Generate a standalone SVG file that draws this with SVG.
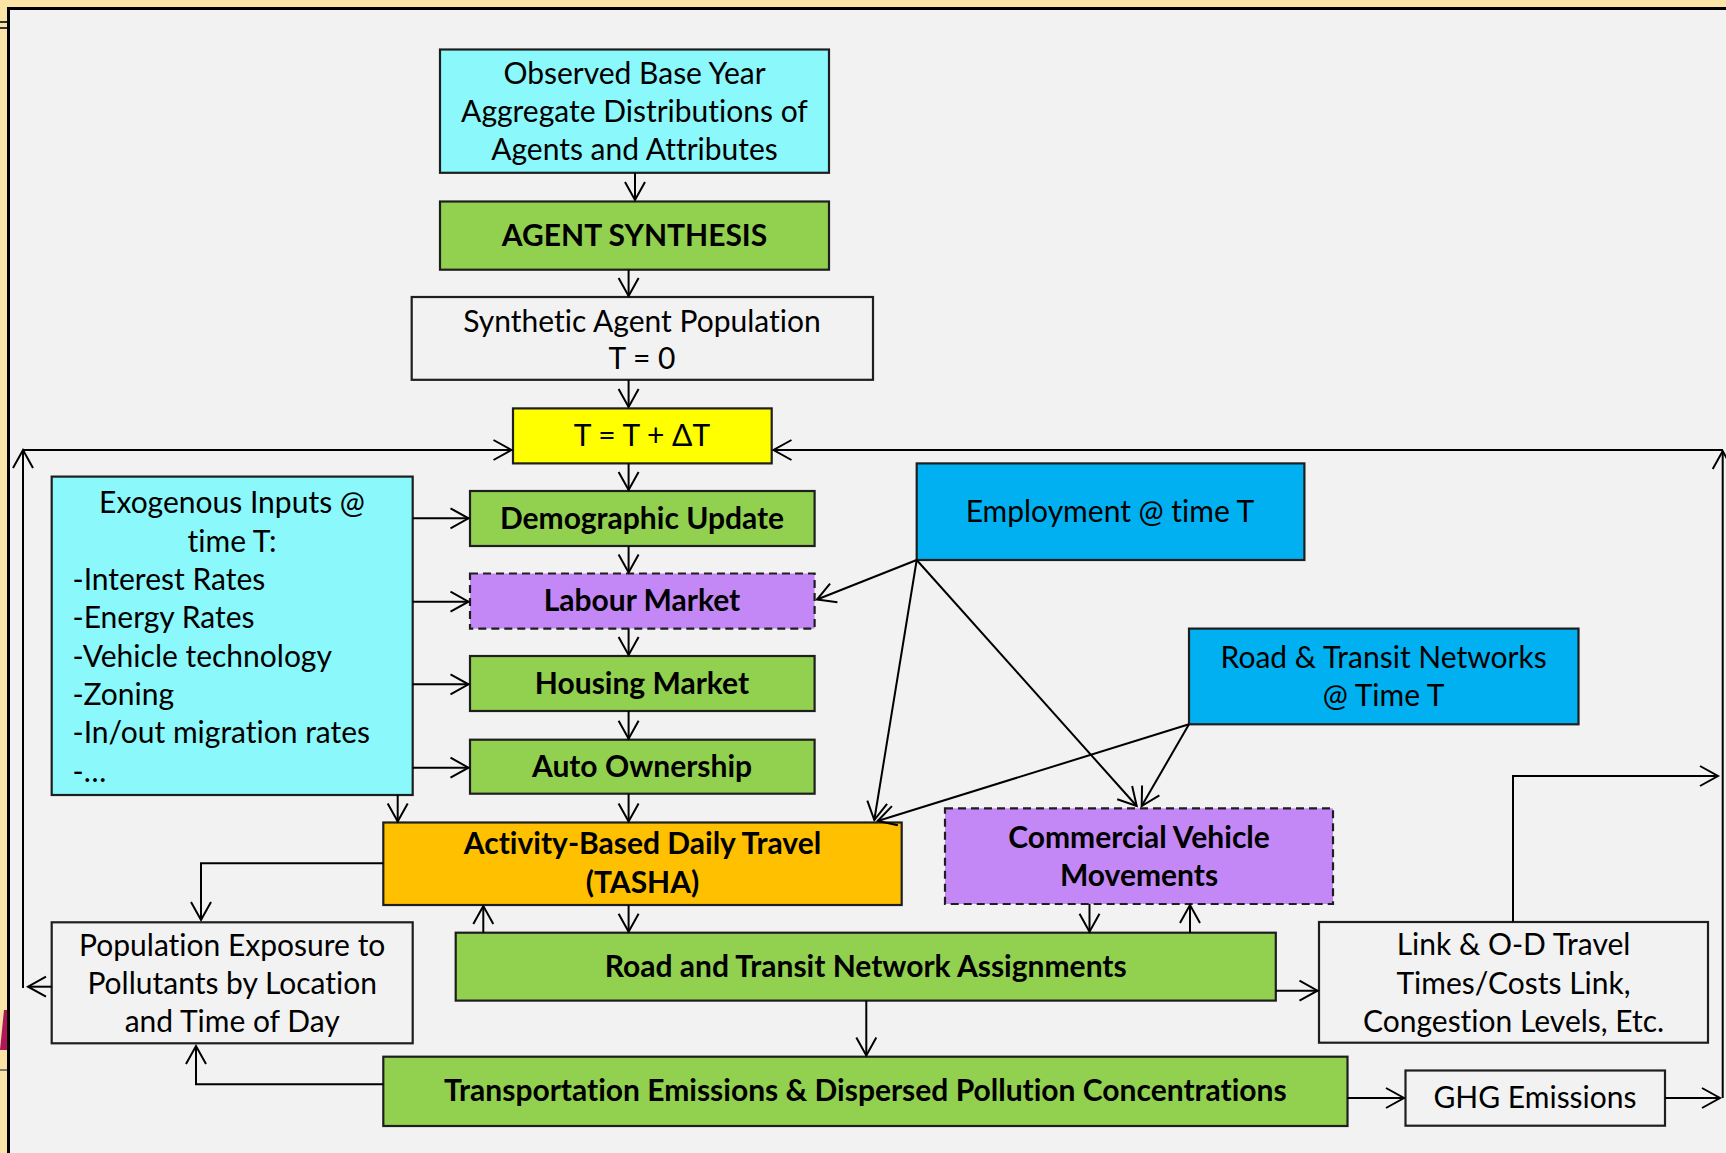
<svg xmlns="http://www.w3.org/2000/svg" width="1726" height="1153" viewBox="0 0 1726 1153">
<defs>
<marker id="ah" markerUnits="userSpaceOnUse" markerWidth="24" markerHeight="24" viewBox="-20 -12 22 24" refX="0" refY="0" orient="auto">
<path d="M -18 -10 L 0 0 L -18 10" fill="none" stroke="#000" stroke-width="2"/>
</marker>
</defs>
<style>
.bx{stroke:#1e1e1e;stroke-width:2.2}
.dash{stroke-dasharray:8 5}
.cyan{fill:#8BF8FC}
.green{fill:#92D050}
.white{fill:#F2F2F2}
.yellow{fill:#FFFF00}
.purple{fill:#C388F6}
.blue{fill:#00B0F0}
.orange{fill:#FFC000}
text{font-family:Lato,"Liberation Sans",sans-serif;font-size:30px;fill:#000;text-anchor:middle;font-variant-ligatures:none}
.b{font-weight:bold}
.l{text-anchor:start}
.c line,.c path{stroke:#000;stroke-width:2;fill:none;marker-end:url(#ah)}
</style>
<rect x="0" y="0" width="1726" height="1153" fill="#FCE4A6"/>
<line x1="0" y1="22" x2="8" y2="22" stroke="#333" stroke-width="2"/>
<line x1="0" y1="28" x2="8" y2="28" stroke="#333" stroke-width="2"/>
<polygon points="0,1050 7,1050 7,1010 4,1010" fill="#B0185A"/>
<line x1="0" y1="1070" x2="8" y2="1070" stroke="#555" stroke-width="1.5"/>
<rect x="8.5" y="8.5" width="1740" height="1160" fill="#F2F2F2" stroke="#000" stroke-width="3"/>

<g id="observed"><rect class="bx cyan" x="440" y="49.5" width="389" height="123.3"/>
<text x="634.5" y="84">Observed Base Year</text><text x="634.5" y="122">Aggregate Distributions of</text><text x="634.5" y="160">Agents and Attributes</text></g>
<g id="agent-synthesis"><rect class="bx green" x="440" y="201.5" width="389" height="68.2"/>
<text class="b" x="634.5" y="246">AGENT SYNTHESIS</text></g>
<g id="synthetic-population"><rect class="bx white" x="411.7" y="297" width="461.3" height="82.8"/>
<text x="642" y="331.5">Synthetic Agent Population</text><text x="642" y="369">T = 0</text></g>
<g id="time-step"><rect class="bx yellow" x="513" y="408.4" width="258.7" height="55"/>
<text x="642" y="446">T = T + ΔT</text></g>
<g id="exogenous"><rect class="bx cyan" x="51.7" y="476.6" width="361" height="318.4"/>
<text x="232" y="513.3">Exogenous Inputs @</text><text x="232" y="551.7">time T:</text>
<text class="l" x="72.5" y="590">-Interest Rates</text><text class="l" x="72.5" y="628.3">-Energy Rates</text>
<text class="l" x="72.5" y="666.7">-Vehicle technology</text><text class="l" x="72.5" y="705">-Zoning</text>
<text class="l" x="72.5" y="743.3">-In/out migration rates</text><text class="l" x="72.5" y="781.7">-…</text></g>
<g id="demographic"><rect class="bx green" x="470" y="491" width="344.6" height="55"/>
<text class="b" x="642" y="528.5">Demographic Update</text></g>
<g id="labour"><rect class="bx purple dash" x="470" y="573.5" width="344.6" height="55.1"/>
<text class="b" x="642" y="611">Labour Market</text></g>
<g id="housing"><rect class="bx green" x="470" y="656" width="344.6" height="55"/>
<text class="b" x="642" y="693.5">Housing Market</text></g>
<g id="auto"><rect class="bx green" x="470" y="739.7" width="344.6" height="54"/>
<text class="b" x="642" y="776.7">Auto Ownership</text></g>
<g id="employment"><rect class="bx blue" x="916.7" y="463.4" width="387.7" height="96.6"/>
<text x="1110" y="521.7">Employment @ time T</text></g>
<g id="networks"><rect class="bx blue" x="1189" y="628.6" width="389.5" height="95.7"/>
<text x="1383.7" y="668.3">Road &amp; Transit Networks</text><text x="1383.7" y="705.7">@ Time T</text></g>
<g id="activity"><rect class="bx orange" x="383.3" y="822.5" width="518.4" height="82.5"/>
<text class="b" x="642.5" y="854.3">Activity-Based Daily Travel</text><text class="b" x="642.5" y="892.8">(TASHA)</text></g>
<g id="commercial"><rect class="bx purple dash" x="945" y="808.3" width="388" height="95.7"/>
<text class="b" x="1139" y="847.7">Commercial Vehicle</text><text class="b" x="1139" y="886.2">Movements</text></g>
<g id="assignment"><rect class="bx green" x="455.7" y="932.7" width="820.1" height="67.9"/>
<text class="b" x="865.7" y="976.6">Road and Transit Network Assignments</text></g>
<g id="exposure"><rect class="bx white" x="51.7" y="922.3" width="361" height="121"/>
<text x="232.2" y="955.7">Population Exposure to</text><text x="232.2" y="994.3">Pollutants by Location</text><text x="232.2" y="1031.7">and Time of Day</text></g>
<g id="link-od"><rect class="bx white" x="1319" y="922" width="389" height="120.7"/>
<text x="1513.5" y="955">Link &amp; O-D Travel</text><text x="1513.5" y="994">Times/Costs Link,</text><text x="1513.5" y="1031.7">Congestion Levels, Etc.</text></g>
<g id="emissions"><rect class="bx green" x="383.3" y="1056.7" width="964.2" height="69.3"/>
<text class="b" x="865.4" y="1101.3">Transportation Emissions &amp; Dispersed Pollution Concentrations</text></g>
<g id="ghg"><rect class="bx white" x="1405.5" y="1070.5" width="259.5" height="55.2"/>
<text x="1535" y="1108">GHG Emissions</text></g>

<g id="connectors" class="c">
<line x1="635" y1="172.8" x2="635" y2="200"/>
<line x1="628.6" y1="269.7" x2="628.6" y2="296"/>
<line x1="628.6" y1="379.8" x2="628.6" y2="407"/>
<line x1="628.6" y1="463.4" x2="628.6" y2="490"/>
<line x1="628.6" y1="546" x2="628.6" y2="572.5"/>
<line x1="628.6" y1="628.6" x2="628.6" y2="655"/>
<line x1="628.6" y1="711" x2="628.6" y2="738.7"/>
<line x1="628.6" y1="793.7" x2="628.6" y2="821.5"/>
<line x1="628.6" y1="905" x2="628.6" y2="931.7"/>
<line x1="483.3" y1="932.7" x2="483.3" y2="906"/>
<line x1="1089.5" y1="904" x2="1089.5" y2="931.7"/>
<line x1="1190" y1="932.7" x2="1190" y2="905"/>
<line x1="866.3" y1="1000.6" x2="866.3" y2="1055.5"/>
<line x1="412.7" y1="518.3" x2="468.5" y2="518.3"/>
<line x1="412.7" y1="601.7" x2="468.5" y2="601.7"/>
<line x1="412.7" y1="684.3" x2="468.5" y2="684.3"/>
<line x1="412.7" y1="767.7" x2="468.5" y2="767.7"/>
<line x1="397.7" y1="795" x2="397.7" y2="821.5"/>
<line x1="916.7" y1="560" x2="817" y2="599.5"/>
<line x1="916.7" y1="560" x2="874.3" y2="820"/>
<line x1="916.7" y1="560" x2="1136.7" y2="806"/>
<line x1="1189" y1="724.3" x2="877.7" y2="821"/>
<line x1="1189" y1="724.3" x2="1141.7" y2="806"/>
<path d="M 383.3 863.3 H 201 V 920"/>
<path d="M 383.3 1084.3 H 196 V 1046"/>
<line x1="51.7" y1="986.7" x2="28" y2="986.7"/>
<line x1="23" y1="988" x2="23" y2="450"/>
<line x1="23" y1="450" x2="511.5" y2="450"/>
<line x1="1723" y1="450" x2="773.5" y2="450"/>
<line x1="1722.7" y1="1098" x2="1722.7" y2="451"/>
<line x1="1275.8" y1="990.7" x2="1317.5" y2="990.7"/>
<path d="M 1513 922 V 776 H 1718"/>
<line x1="1347.5" y1="1098" x2="1404" y2="1098"/>
<line x1="1665" y1="1098" x2="1720" y2="1098"/>
</g>
</svg>
